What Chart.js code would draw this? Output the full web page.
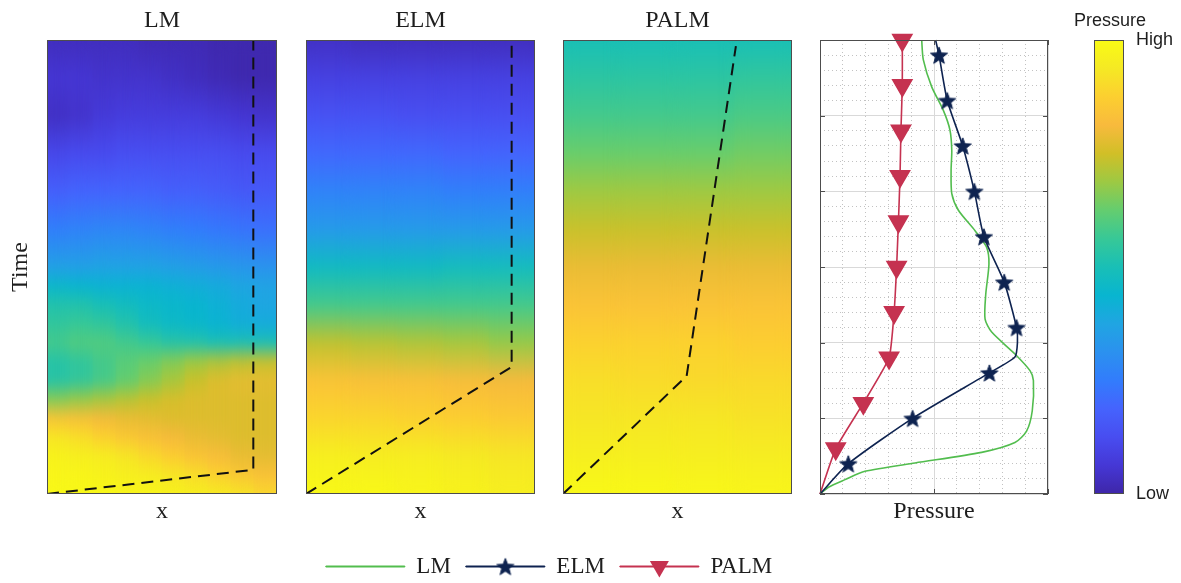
<!DOCTYPE html>
<html>
<head>
<meta charset="utf-8">
<script src="https://cdn.jsdelivr.net/npm/chart.js@4.4.1/dist/chart.umd.min.js"></script>
<style>
  body { margin: 0; background: #fff; }
  #wrap { position: relative; width: 1181px; height: 583px; overflow: hidden; }
  canvas { position: absolute; top: 0; }
</style>
</head>
<body>
<div id="wrap">
  <canvas id="cLM" width="290" height="540" style="left:0px"></canvas>
  <canvas id="cELM" width="290" height="540" style="left:259px"></canvas>
  <canvas id="cPALM" width="290" height="540" style="left:516px"></canvas>
  <canvas id="cLine" width="290" height="540" style="left:773px"></canvas>
  <canvas id="cBar" width="142" height="540" style="left:1039px"></canvas>
  <canvas id="cLeg" width="1098" height="120" style="left:0px; top:540px"></canvas>
</div>
<script>
// pressure fields: rows follow the time arrays (top to bottom), columns follow the x columns
const lmTime = [6, 5.5, 5, 4.5, 4, 3.5, 3, 2.75, 2.5, 2.25, 2, 1.75, 1.5, 1.25, 1, 0.75, 0.5, 0.25, 0];
const lmCols = [0.05, 0.15, 0.25, 0.35, 0.45, 0.55, 0.65, 0.75, 0.85, 0.95];
const lmField = [
  [0.03, 0.03, 0.03, 0.03, 0.02, 0.02, 0.02, 0.01, 0.01, 0.01],
  [0.06, 0.06, 0.05, 0.05, 0.05, 0.04, 0.03, 0.02, 0.01, 0.01],
  [0.04, 0.05, 0.07, 0.08, 0.08, 0.08, 0.08, 0.07, 0.06, 0.05],
  [0.11, 0.12, 0.12, 0.13, 0.13, 0.13, 0.13, 0.13, 0.12, 0.12],
  [0.18, 0.19, 0.19, 0.19, 0.19, 0.18, 0.18, 0.17, 0.16, 0.16],
  [0.26, 0.27, 0.28, 0.28, 0.27, 0.26, 0.25, 0.24, 0.23, 0.22],
  [0.36, 0.36, 0.37, 0.37, 0.37, 0.36, 0.35, 0.34, 0.33, 0.32],
  [0.45, 0.44, 0.43, 0.43, 0.43, 0.42, 0.41, 0.40, 0.38, 0.37],
  [0.52, 0.52, 0.50, 0.48, 0.46, 0.45, 0.44, 0.42, 0.40, 0.38],
  [0.55, 0.56, 0.55, 0.52, 0.48, 0.46, 0.45, 0.43, 0.41, 0.40],
  [0.58, 0.60, 0.60, 0.58, 0.56, 0.53, 0.52, 0.50, 0.50, 0.50],
  [0.53, 0.55, 0.58, 0.61, 0.63, 0.66, 0.69, 0.71, 0.73, 0.74],
  [0.53, 0.55, 0.58, 0.62, 0.66, 0.70, 0.74, 0.77, 0.78, 0.78],
  [0.66, 0.68, 0.70, 0.72, 0.74, 0.76, 0.77, 0.77, 0.77, 0.77],
  [0.84, 0.83, 0.81, 0.79, 0.78, 0.77, 0.77, 0.77, 0.77, 0.77],
  [0.93, 0.91, 0.88, 0.85, 0.83, 0.81, 0.79, 0.78, 0.77, 0.77],
  [0.97, 0.96, 0.95, 0.93, 0.90, 0.87, 0.84, 0.82, 0.79, 0.78],
  [0.98, 0.98, 0.97, 0.96, 0.95, 0.93, 0.91, 0.88, 0.85, 0.83],
  [0.99, 0.99, 0.99, 0.98, 0.98, 0.97, 0.96, 0.95, 0.93, 0.90]
];

const elmTime = [6, 5.5, 5, 4.5, 4, 3.5, 3, 2.5, 2, 1.5, 1, 0.5, 0];
const elmCols = [0.1, 0.3, 0.5, 0.7, 0.9];
const elmField = [
  [0.04, 0.03, 0.03, 0.03, 0.03],
  [0.09, 0.09, 0.09, 0.09, 0.09],
  [0.14, 0.14, 0.13, 0.13, 0.13],
  [0.20, 0.20, 0.20, 0.19, 0.19],
  [0.27, 0.27, 0.27, 0.26, 0.26],
  [0.34, 0.34, 0.34, 0.34, 0.34],
  [0.47, 0.47, 0.47, 0.48, 0.48],
  [0.58, 0.58, 0.58, 0.58, 0.58],
  [0.73, 0.72, 0.71, 0.70, 0.68],
  [0.84, 0.83, 0.83, 0.82, 0.81],
  [0.89, 0.89, 0.88, 0.87, 0.86],
  [0.96, 0.95, 0.95, 0.94, 0.93],
  [0.99, 0.99, 0.98, 0.97, 0.96]
];

const palmTime = [6, 5.5, 5, 4.5, 4, 3.5, 3, 2.5, 2, 1.5, 1, 0.5, 0];
const palmCols = [0.125, 0.375, 0.625, 0.875];
const palmField = [
  [0.50, 0.50, 0.50, 0.50],
  [0.54, 0.54, 0.54, 0.55],
  [0.58, 0.58, 0.58, 0.59],
  [0.63, 0.63, 0.63, 0.64],
  [0.69, 0.69, 0.69, 0.69],
  [0.74, 0.74, 0.74, 0.74],
  [0.79, 0.79, 0.79, 0.79],
  [0.84, 0.84, 0.84, 0.84],
  [0.88, 0.88, 0.88, 0.87],
  [0.91, 0.905, 0.90, 0.90],
  [0.93, 0.93, 0.93, 0.92],
  [0.96, 0.96, 0.955, 0.95],
  [0.99, 0.99, 0.985, 0.98]
];

// front paths (dashed) in each panel
const lmPathX = [0, 0.897, 0.897];
const lmPathT = [0, 0.32, 6];
const elmPathX = [0, 0.898, 0.898];
const elmPathT = [0, 1.68, 6];
const palmPathX = [0, 0.54, 0.755];
const palmPathT = [0, 1.56, 5.92];

// pressure profiles (right panel)
const lmLineT = [6, 5.74, 5.38, 5.07, 4.81, 4.54, 4.28, 3.97, 3.75, 3.48, 3.26, 3.04, 2.64, 2.31, 2.14, 1.85, 1.63, 1.5, 1.1, 0.83, 0.68, 0.55, 0.41, 0.3, 0.19, 0.09, 0];
const lmLineP = [0.446, 0.453, 0.49, 0.541, 0.57, 0.578, 0.575, 0.578, 0.607, 0.68, 0.731, 0.741, 0.727, 0.724, 0.753, 0.855, 0.921, 0.936, 0.931, 0.906, 0.855, 0.709, 0.417, 0.197, 0.11, 0.037, 0];
const elmLineT = [6, 5.8, 5.2, 4.6, 4.0, 3.4, 2.8, 2.2, 2.0, 1.81, 1.6, 1.0, 0.4, 0];
const elmLineP = [0.507, 0.522, 0.558, 0.626, 0.677, 0.719, 0.808, 0.862, 0.866, 0.855, 0.743, 0.406, 0.124, 0];
const elmMarker = [0, 1, 1, 1, 1, 1, 1, 1, 0, 0, 1, 1, 1, 0];
const palmLineT = [6, 5.4, 4.8, 4.2, 3.6, 3.0, 2.4, 1.8, 1.2, 0.6, 0];
const palmLineP = [0.361, 0.361, 0.355, 0.351, 0.344, 0.336, 0.325, 0.303, 0.19, 0.069, 0];
const palmMarker = [1, 1, 1, 1, 1, 1, 1, 1, 1, 1, 0];

const seriesNames = ['LM', 'ELM', 'PALM'];

// parula colormap
const parula = [
  [62, 38, 168], [69, 55, 213], [72, 77, 240], [69, 99, 253], [50, 124, 252], [43, 145, 239],
  [32, 165, 226], [8, 181, 208], [25, 191, 182], [55, 200, 151], [100, 205, 111], [157, 201, 67],
  [209, 191, 39], [248, 186, 61], [252, 207, 48], [245, 233, 36], [249, 251, 21]
];

const SERIF = "'Liberation Serif', 'Times New Roman', serif";
const SANS = "'Liberation Sans', Arial, sans-serif";
const TEXT = '#1e1e1e';
const GREEN = '#52bd4e';
const NAVY = '#0e2350';
const RED = '#c53250';

Chart.defaults.color = TEXT;

function parulaColor(v) {
  const n = parula.length - 1;
  const p = Math.min(Math.max(v, 0), 1) * n;
  const i = Math.min(Math.floor(p), n - 1);
  const f = p - i;
  const a = parula[i], b = parula[i + 1];
  const c = [0, 1, 2].map(k => Math.round(a[k] + (b[k] - a[k]) * f));
  return 'rgb(' + c.join(',') + ')';
}

// vertical gradient for one column of a field, placed by the y scale
function columnGradient(chart, times, field, col) {
  if (!chart.chartArea) return null;
  const y = chart.scales.y;
  const top = y.getPixelForValue(y.max), bottom = y.getPixelForValue(y.min);
  const g = chart.ctx.createLinearGradient(0, top, 0, bottom);
  times.forEach((t, i) => {
    g.addColorStop((y.getPixelForValue(t) - top) / (bottom - top), parulaColor(field[i][col]));
  });
  return g;
}

function makeStar(r, color) {
  const c = document.createElement('canvas');
  const s = Math.ceil(r * 2 + 4);
  c.width = s; c.height = s;
  const g = c.getContext('2d');
  g.translate(s / 2, s / 2 + r * 0.1);
  g.beginPath();
  for (let i = 0; i < 10; i++) {
    const rad = i % 2 ? r * 0.42 : r;
    const a = -Math.PI / 2 + i * Math.PI / 5;
    g.lineTo(Math.cos(a) * rad, Math.sin(a) * rad);
  }
  g.closePath();
  g.fillStyle = color; g.fill();
  g.lineWidth = 1; g.strokeStyle = color; g.stroke();
  return c;
}
const star = makeStar(9, NAVY);

const framePlugin = {
  id: 'frame',
  afterDatasetsDraw(chart, args, opts) {
    const a = chart.chartArea, ctx = chart.ctx;
    const l = Math.round(a.left), r = Math.round(a.right), t = Math.round(a.top), b = Math.round(a.bottom);
    ctx.save();
    ctx.strokeStyle = '#4d4d4d';
    ctx.lineWidth = 1;
    if (opts && opts.ticks) {
      // inward tick marks at major positions
      ctx.beginPath();
      chart.scales.y.ticks.forEach(tk => {
        const py = Math.round(chart.scales.y.getPixelForValue(tk.value)) + 0.5;
        ctx.moveTo(l, py); ctx.lineTo(l + 5, py);
        ctx.moveTo(r, py); ctx.lineTo(r - 5, py);
      });
      chart.scales.x.ticks.forEach(tk => {
        const px = Math.round(chart.scales.x.getPixelForValue(tk.value)) + 0.5;
        ctx.moveTo(px, b); ctx.lineTo(px, b - 5);
        ctx.moveTo(px, t); ctx.lineTo(px, t + 5);
      });
      ctx.stroke();
    }
    ctx.strokeRect(l + 0.5, t + 0.5, r - l - 1, b - t - 1);
    ctx.restore();
  }
};

// shaded look: the column bars are drawn once sharp, then again softened on top
const shadePlugin = {
  id: 'shade',
  afterDatasetDraw(chart, args, opts) {
    if (args.meta.type !== 'bar') return;
    const ctx = chart.ctx, a = chart.chartArea;
    ctx.save();
    ctx.beginPath();
    ctx.rect(a.left, a.top, a.right - a.left, a.bottom - a.top);
    ctx.clip();
    ctx.filter = 'blur(' + (opts.blur || 6) + 'px)';
    args.meta.controller.draw();
    ctx.restore();
  }
};

function heatmap(id, title, cols, times, field, pathX, pathT, padRight, showTime) {
  const tMin = Math.min(...times), tMax = Math.max(...times);
  new Chart(document.getElementById(id), {
    type: 'bar',
    data: {
      datasets: [
        {
          type: 'line',
          data: pathX.map((x, i) => ({ x: x, y: pathT[i] })),
          borderColor: '#111', borderWidth: 2, borderDash: [12, 7],
          pointRadius: 0, tension: 0, fill: false, order: 0
        },
        {
          data: cols.map(x => ({ x: x, y: [tMin, tMax] })),
          backgroundColor: c => c.type === 'data' ? columnGradient(c.chart, times, field, c.dataIndex) : '#888',
          borderWidth: 0, barPercentage: 1, categoryPercentage: 1, grouped: false, order: 1
        }
      ]
    },
    options: {
      responsive: false, animation: false, events: [],
      layout: { padding: { right: padRight } },
      plugins: {
        legend: { display: false },
        tooltip: { enabled: false },
        title: {
          display: true, text: title, fullSize: false, color: TEXT,
          font: { family: SERIF, size: 24, weight: 'normal' },
          padding: { top: 6.6, bottom: 4.6 }
        },
        frame: {},
        shade: { blur: 7 }
      },
      scales: {
        x: {
          type: 'linear', position: 'bottom', min: 0, max: 1, offset: false,
          grid: { display: false }, border: { display: false },
          ticks: { display: false, stepSize: cols[1] - cols[0] },
          title: { display: true, text: 'x', color: TEXT, font: { family: SERIF, size: 24 }, padding: { top: 0, bottom: 14 } },
          afterFit: s => { s.height = 46; }
        },
        y: {
          type: 'linear', position: 'left', min: 0, max: 6,
          grid: { display: false }, border: { display: false }, ticks: { display: false },
          title: { display: showTime, text: 'Time', color: TEXT, font: { family: SERIF, size: 24 }, padding: { top: 6, bottom: 0 } },
          afterFit: s => { s.width = 47; }
        }
      }
    },
    plugins: [shadePlugin, framePlugin]
  });
}

heatmap('cLM', 'LM', lmCols, lmTime, lmField, lmPathX, lmPathT, 13, true);
heatmap('cELM', 'ELM', elmCols, elmTime, elmField, elmPathX, elmPathT, 14, false);
heatmap('cPALM', 'PALM', palmCols, palmTime, palmField, palmPathX, palmPathT, 14, false);

// pressure profiles
const toXY = (p, t) => p.map((v, i) => ({ x: v, y: t[i] }));
new Chart(document.getElementById('cLine'), {
  type: 'line',
  data: {
    datasets: [
      {
        label: seriesNames[0], data: toXY(lmLineP, lmLineT),
        borderColor: GREEN, borderWidth: 1.6, pointRadius: 0, tension: 0.25, order: 3, clip: false
      },
      {
        label: seriesNames[1], data: toXY(elmLineP, elmLineT),
        borderColor: NAVY, borderWidth: 1.6, tension: 0.2, order: 1, clip: false,
        pointStyle: star, pointRadius: c => elmMarker[c.dataIndex] ? 8 : 0
      },
      {
        label: seriesNames[2], data: toXY(palmLineP, palmLineT),
        borderColor: RED, borderWidth: 1.6, tension: 0.15, order: 2, clip: false,
        pointStyle: 'triangle', pointRotation: 180, backgroundColor: RED, pointBorderColor: RED,
        pointRadius: c => palmMarker[c.dataIndex] ? 11 : 0
      }
    ]
  },
  options: {
    responsive: false, animation: false, events: [],
    layout: { padding: { top: 40, right: 15 } },
    plugins: { legend: { display: false }, tooltip: { enabled: false }, frame: { ticks: true } },
    scales: {
      xm: {
        type: 'linear', position: 'top', min: 0, max: 1,
        ticks: { display: false, stepSize: 0.1, maxTicksLimit: 100 },
        grid: { color: '#c2c2c2', drawTicks: false, z: -2 }, border: { display: false, dash: [1, 3] },
        afterFit: s => { s.height = 0; }
      },
      ym: {
        type: 'linear', position: 'right', min: 0, max: 6,
        ticks: { display: false, stepSize: 0.2, maxTicksLimit: 100 },
        grid: { color: '#c2c2c2', drawTicks: false, z: -2 }, border: { display: false, dash: [1, 3] },
        afterFit: s => { s.width = 0; }
      },
      x: {
        type: 'linear', position: 'bottom', min: 0, max: 1,
        ticks: { display: false, stepSize: 0.5 },
        grid: { color: '#d9d9d9', drawTicks: false, z: -1 }, border: { display: false },
        title: { display: true, text: 'Pressure', color: TEXT, font: { family: SERIF, size: 24 }, padding: { top: 0, bottom: 14 } },
        afterFit: s => { s.height = 46; }
      },
      y: {
        type: 'linear', position: 'left', min: 0, max: 6,
        ticks: { display: false, stepSize: 1 },
        grid: { color: '#d9d9d9', drawTicks: false, z: -1 }, border: { display: false },
        afterFit: s => { s.width = 47; }
      }
    }
  },
  plugins: [framePlugin]
});

// colour bar
new Chart(document.getElementById('cBar'), {
  type: 'bar',
  data: {
    labels: ['Pressure'],
    datasets: [{
      data: [[0, 1]], yAxisID: 'y',
      backgroundColor: c => {
        const ch = c.chart;
        if (!ch.chartArea) return null;
        const y = ch.scales.y;
        const g = ch.ctx.createLinearGradient(0, y.getPixelForValue(0), 0, y.getPixelForValue(1));
        parula.forEach((p, i) => g.addColorStop(i / (parula.length - 1), 'rgb(' + p.join(',') + ')'));
        return g;
      },
      borderWidth: 0, barPercentage: 1, categoryPercentage: 1
    }]
  },
  options: {
    responsive: false, animation: false, events: [],
    layout: { padding: { bottom: 46 } },
    plugins: {
      legend: { display: false }, tooltip: { enabled: false }, frame: {},
      title: {
        display: true, text: 'Pressure', color: TEXT,
        font: { family: SANS, size: 18, weight: 'normal' }, padding: { top: 10.2, bottom: 8.2 }
      }
    },
    scales: {
      x: { display: false },
      yl: {
        type: 'linear', position: 'left', min: 0, max: 1,
        grid: { display: false }, border: { display: false }, ticks: { display: false },
        afterFit: s => { s.width = 55; }
      },
      y: {
        type: 'linear', position: 'right', min: 0, max: 1,
        grid: { display: false, drawTicks: false }, border: { display: false },
        ticks: { color: TEXT, padding: 12, font: { family: SANS, size: 18 }, callback: v => v === 1 ? 'High' : 'Low' },
        afterBuildTicks: s => { s.ticks = [{ value: 0 }, { value: 1 }]; },
        afterFit: s => { s.width = 57; }
      }
    }
  },
  plugins: [framePlugin]
});

// legend with line + marker
const BOX_W = 79;
const legendMarkers = {
  id: 'legendMarkers',
  afterDraw(chart) {
    const ctx = chart.ctx;
    const fs = chart.options.plugins.legend.labels.font.size;
    chart.legend.legendHitBoxes.forEach((b, i) => {
      const cx = b.left + BOX_W / 2, cy = b.top + fs / 2;
      if (i === 1) {
        ctx.drawImage(star, cx - star.width / 2, cy - star.height / 2);
      } else if (i === 2) {
        const r = 11;
        ctx.save();
        ctx.fillStyle = RED;
        ctx.beginPath();
        ctx.moveTo(cx, cy + r);
        ctx.lineTo(cx - r * Math.sin(Math.PI / 3), cy - r / 2);
        ctx.lineTo(cx + r * Math.sin(Math.PI / 3), cy - r / 2);
        ctx.closePath();
        ctx.fill();
        ctx.restore();
      }
    });
  }
};
new Chart(document.getElementById('cLeg'), {
  type: 'line',
  data: {
    datasets: [
      { label: seriesNames[0], data: [], borderColor: GREEN },
      { label: seriesNames[1], data: [], borderColor: NAVY },
      { label: seriesNames[2], data: [], borderColor: RED }
    ]
  },
  options: {
    responsive: false, animation: false, events: [],
    scales: { x: { display: false }, y: { display: false } },
    plugins: {
      tooltip: { enabled: false },
      legend: {
        position: 'top', maxHeight: 80,
        labels: {
          boxWidth: BOX_W, boxHeight: 1, padding: 15, color: TEXT,
          font: { family: SERIF, size: 23 },
          generateLabels: ch => ch.data.datasets.map((d, i) => ({
            text: d.label, fillStyle: d.borderColor, strokeStyle: d.borderColor,
            lineWidth: 1, hidden: false, datasetIndex: i, fontColor: TEXT
          }))
        }
      }
    }
  },
  plugins: [legendMarkers]
});
</script>
</body>
</html>
